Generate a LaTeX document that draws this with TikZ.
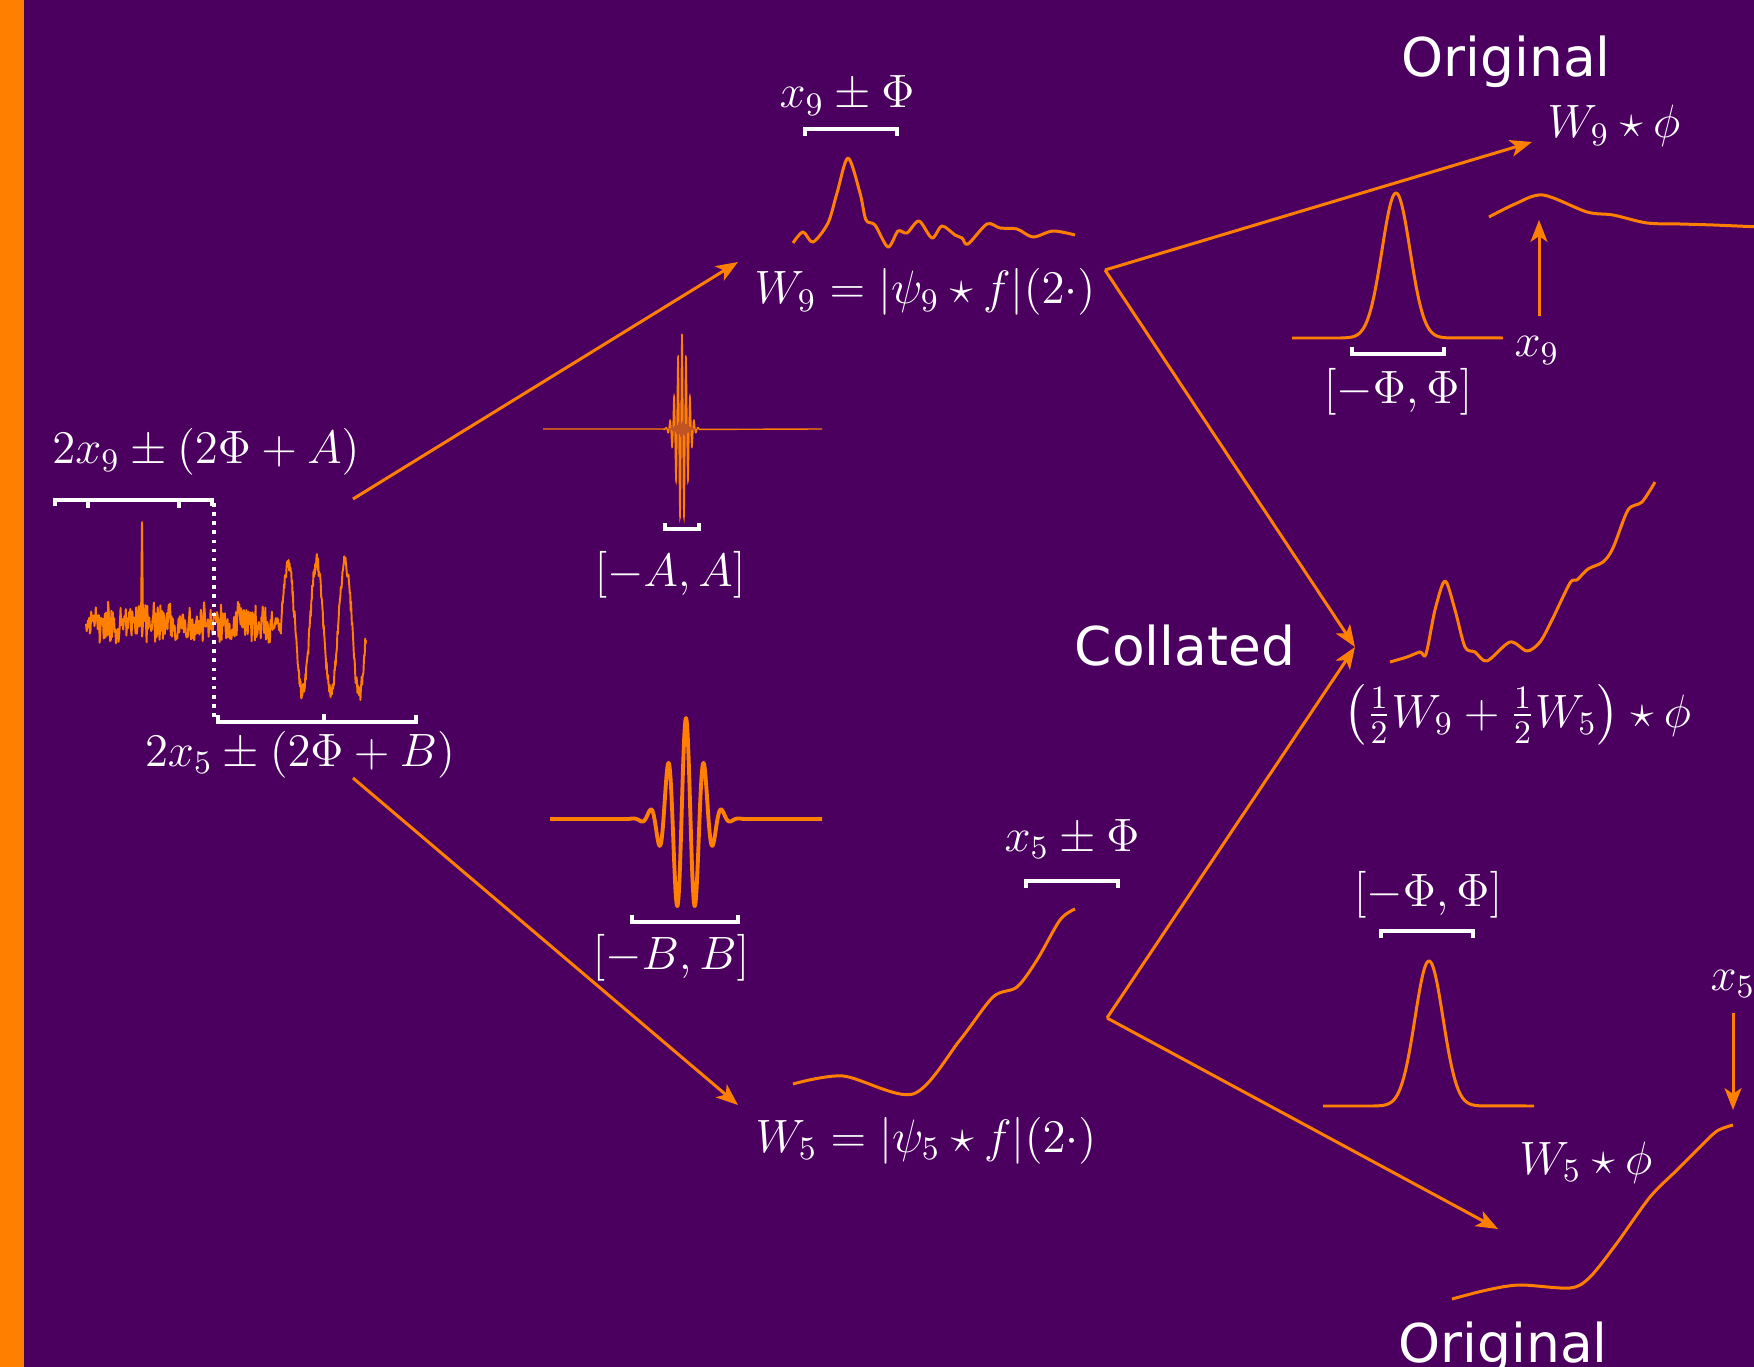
\documentclass[tikz,border=0pt]{standalone}
\usepackage{fix-cm}
\usepackage{amsmath}
\usepackage{fontspec}
\newfontfamily\headfont{DejaVu Sans}
\usetikzlibrary{arrows.meta}
\definecolor{slidebg}{RGB}{75,0,96}
\definecolor{slideorange}{RGB}{255,128,0}

\begin{document}
\begin{tikzpicture}[
  x=0.01cm, y=-0.01cm,
  lbl/.style={
    text=white,
    inner sep=0pt,
    anchor=base,
    font=\fontsize{13.3}{16}\selectfont
  },
  head/.style={
    text=white,
    inner sep=0pt,
    anchor=base,
    font=\headfont\fontsize{15.2}{18}\selectfont
  },
  arrow/.style={-{Stealth[length=6.2pt, width=4.8pt, inset=1.6pt]}, line width=0.85pt, draw=slideorange},
  curve/.style={draw=slideorange, line width=0.85pt, line join=round},
  wave/.style={draw=slideorange, line width=1.1pt, line join=round},
  thinwave/.style={draw=slideorange, line width=0.4pt},
  signal/.style={draw=slideorange, line width=0.55pt, line join=round},
  brack/.style={draw=white, line width=1.1pt}
]

\useasboundingbox (0,0) rectangle (1754,1367);
\clip (0,0) rectangle (1754,1367);
\fill[slidebg] (0,0) rectangle (1754,1367);
\fill[slideorange] (0,0) rectangle (24,1367);

\pgfmathsetseed{12}
\draw[signal] plot[domain=86:281, samples=300] (\x,{623+16*rand+8*rand})
  -- plot[domain=0:85, samples=200] ({281+\x},{628-66*sin(12.632*\x)+5*(rand+rand)});
\draw[signal] (141,625) -- (142,522) -- (143,627);

\draw[brack] (55,506) -- (55,500) -- (212,500) -- (212,506);
\draw[brack] (88,500) -- (88,508) (179,500) -- (179,508);
\draw[white, line width=1pt, dash pattern=on 1pt off 1.6pt] (214,503) -- (214,718);
\draw[brack] (218,715) -- (218,722) -- (416,722) -- (416,715);
\draw[brack] (324,722) -- (324,714);

\draw[thinwave] (543,429) -- (664,429)
  -- plot[domain=-18:18, samples=361] ({682+\x},{429-95*exp(-\x*\x/60)*cos(90*\x)}) -- (822,429);
\draw[brack] (665,523) -- (665,529) -- (699,529) -- (699,523);

\draw[wave] (550,819) -- (626,819)
  -- plot[domain=-60:60, samples=241] ({686+\x},{819-101*exp(-\x*\x/535)*cos(20*\x)}) -- (822,819);
\draw[brack] (632,915) -- (632,922) -- (738,922) -- (738,915);

\draw[curve] plot[smooth] coordinates {(793,243) (803,232) (813,242) (828,223) (837,193) (848,158) (860,193) (866,220) (875,225) (888,247) (898,231) (907,233) (919,221) (932,238) (942,226) (955,235) (962,238) (968,244) (987,224) (1000,228) (1017,229) (1033,237) (1053,231) (1075,235)};
\draw[brack] (805,136) -- (805,129) -- (897,129) -- (897,136);

\draw[curve] plot[smooth] coordinates {(793,1084) (843,1076) (913,1094) (960,1040) (993,997) (1017,987) (1037,960) (1060,920) (1075,909)};
\draw[brack] (1026,888) -- (1026,881) -- (1118,881) -- (1118,888);

\draw[curve] (1292,338) -- (1341,338)
  -- plot[domain=-55:55, samples=111] ({1396+\x},{338-145*exp(-\x*\x/392)}) -- (1503,338);
\draw[brack] (1352,347) -- (1352,354) -- (1444,354) -- (1444,347);
\draw[curve] plot[smooth] coordinates {(1489,217) (1515,204) (1543,195) (1587,212) (1613,215) (1647,223) (1680,224) (1713,225) (1760,227)};

\draw[curve] plot[smooth] coordinates {(1390,662) (1407,657) (1420,652) (1426,654) (1435,610) (1445,581) (1455,610) (1465,647) (1475,652) (1487,661) (1510,642) (1527,651) (1540,642) (1552,620) (1570,583) (1577,580) (1588,569) (1603,562) (1613,548) (1628,510) (1642,502) (1655,482)};

\draw[curve] (1323,1106) -- (1374,1106)
  -- plot[domain=-55:55, samples=111] ({1429+\x},{1106-145*exp(-\x*\x/392)}) -- (1534,1106);
\draw[brack] (1381,938) -- (1381,931) -- (1473,931) -- (1473,938);
\draw[curve] plot[smooth] coordinates {(1452,1299) (1487,1290) (1520,1285) (1570,1288) (1590,1277) (1617,1243) (1650,1197) (1677,1170) (1700,1147) (1717,1131) (1733,1125)};

\node[lbl] (lblNineWide) at (206,464) {$2x_9 \pm (2\Phi + A)$};
\node[lbl] (lblFiveWide) at (300,766) {$2x_5 \pm (2\Phi + B)$};
\node[lbl] (lblA) at (670,587) {$[-A, A]$};
\node[lbl] (lblB) at (671,969) {$[-B, B]$};
\node[lbl] (lblNineLoc) at (847,108) {$x_9 \pm \Phi$};
\node[lbl] (wNine) at (925,304) {$W_9 = |\psi_9 \star f|(2\cdot)$};
\node[lbl] (wFive) at (926,1152) {$W_5 = |\psi_5 \star f|(2\cdot)$};
\node[lbl] (lblFiveLoc) at (1072,851) {$x_5 \pm \Phi$};
\node[lbl] (origNine) at (1614,138) {$W_9 \star \phi$};
\node[lbl] (lblPhiTop) at (1398,404) {$[-\Phi, \Phi]$};
\node[lbl] (lblXNine) at (1537,357) {$x_9$};
\node[lbl] (collated) at (1517,727) {$\bigl(\frac{1}{2}W_9 + \frac{1}{2}W_5\bigr) \star \phi$};
\node[lbl] (lblPhiBot) at (1428,906) {$[-\Phi, \Phi]$};
\node[lbl, anchor=base west] (lblXFive) at (1710,990) {$x_5$};
\node[lbl] (origFive) at (1586,1174) {$W_5 \star \phi$};
\node[head] (headOrigTop) at (1506,77) {Original};
\node[head] (headColl) at (1185,666) {Collated};
\node[head] (headOrigBot) at (1503,1362) {Original};

\coordinate (sigUp) at (353,499);
\coordinate (sigDown) at (353,778);
\coordinate (nineIn) at (738,262);
\coordinate (fiveIn) at (738,1105);
\coordinate (nineFork) at (1105,270);
\coordinate (fiveFork) at (1107,1018);
\coordinate (nineTip) at (1532,142);
\coordinate (collTip) at (1355,647);
\coordinate (fiveTip) at (1498,1229);
\coordinate (xNineFoot) at (1539,316);
\coordinate (xNineHead) at (1539,220);
\coordinate (xFiveFoot) at (1733,1013);
\coordinate (xFiveHead) at (1733,1110);

\draw[arrow] (sigUp) -- (nineIn);
\draw[arrow] (sigDown) -- (fiveIn);
\draw[arrow] (nineFork) -- (nineTip);
\draw[arrow] (nineFork) -- (collTip);
\draw[arrow] (fiveFork) -- (collTip);
\draw[arrow] (fiveFork) -- (fiveTip);
\draw[arrow] (xNineFoot) -- (xNineHead);
\draw[arrow] (xFiveFoot) -- (xFiveHead);

\end{tikzpicture}
\end{document}
